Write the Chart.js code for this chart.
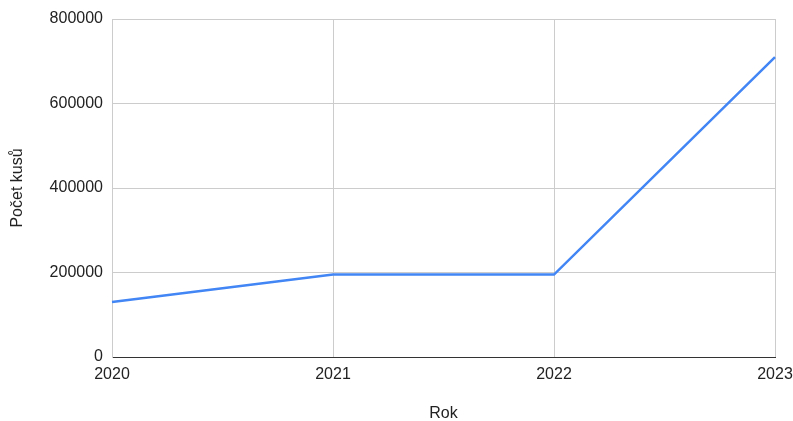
<!DOCTYPE html>
<html>
<head>
<meta charset="utf-8">
<script src="https://cdn.jsdelivr.net/npm/chart.js@4"></script>
<style>
  html, body { margin: 0; padding: 0; background: #fff; }
  #wrap { width: 793px; height: 421px; }
</style>
</head>
<body>
<div id="wrap"><canvas id="kusyChart"></canvas></div>
<script>
// roky a počty kusů
const years = ['2020', '2021', '2022', '2023'];
const pieces = [130000, 195000, 195000, 710000];
const yTicks = [0, 200000, 400000, 600000, 800000];

const FONT = { family: 'Liberation Sans, Arial, sans-serif', size: 16 };
const TEXT = '#222';

const ctx = document.getElementById('kusyChart').getContext('2d');
new Chart(ctx, {
  type: 'line',
  data: {
    labels: years,
    datasets: [{
      data: pieces,
      borderColor: '#4285f4',
      borderWidth: 2.5,
      tension: 0,
      pointRadius: 0,
      pointHoverRadius: 0,
      fill: false
    }]
  },
  options: {
    responsive: true,
    maintainAspectRatio: false,
    animation: false,
    layout: { padding: { left: 0, right: 18, top: 19, bottom: 0 } },
    plugins: { legend: { display: false }, tooltip: { enabled: false } },
    scales: {
      x: {
        type: 'category',
        offset: false,
        // poslední popisek smí přesahovat, oblast grafu končí u pravého okraje
        afterFit: s => { s.height = 64; s.paddingRight = 0; s.paddingLeft = 0; },
        grid: { color: '#cccccc', lineWidth: 1, drawTicks: false },
        border: { color: '#333333', width: 1 },
        ticks: { color: TEXT, font: FONT, padding: 8, maxRotation: 0, autoSkip: false },
        title: { display: true, text: 'Rok', color: TEXT, font: FONT, padding: { top: 0, bottom: -2 } }
      },
      y: {
        min: 0,
        max: 800000,
        afterFit: s => { s.width = 112; },
        afterBuildTicks: s => { s.ticks = yTicks.map(v => ({ value: v })); },
        grid: {
          color: c => (c.tick && c.tick.value === 0) ? '#333333' : '#cccccc',
          lineWidth: 1,
          drawTicks: false
        },
        border: { color: '#cccccc', width: 1 },
        ticks: { color: TEXT, font: FONT, padding: 9, callback: v => String(v) },
        title: { display: true, text: 'Počet kusů', color: TEXT, font: FONT, padding: { top: 8, bottom: 8 } }
      }
    }
  }
});
</script>
</body>
</html>
